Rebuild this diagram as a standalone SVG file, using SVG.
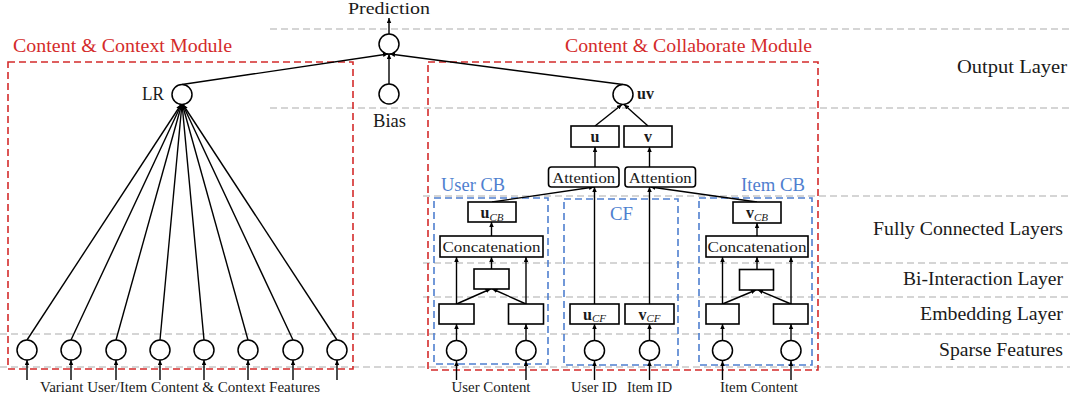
<svg xmlns="http://www.w3.org/2000/svg" width="1070" height="397" viewBox="0 0 1070 397">
<style>
  text{font-family:"Liberation Serif","Times New Roman",serif;fill:#1a1a1a}
  .big{font-size:18px}
  .mid{font-size:15px}
  .small{font-size:14px}
  .red-t{fill:#d42b2b}
  .blue-t{fill:#4f7fcf}
  .bf{font-weight:bold}
  .vec{font-size:16px}
  .sub{font-style:italic;font-size:11px}
  .node circle{fill:#fff;stroke:#000;stroke-width:1.5}
  .box{fill:#fff;stroke:#000;stroke-width:1.6}
  .conn line{stroke:#000;stroke-width:1.4;marker-end:url(#arr)}
  .red{fill:none;stroke:#d42b2b;stroke-width:1.6;stroke-dasharray:7 4}
  .blue{fill:none;stroke:#4f7fcf;stroke-width:1.6;stroke-dasharray:7 4}
</style>
<defs>
  <marker id="arr" viewBox="0 0 10 10" refX="10" refY="5" markerWidth="5" markerHeight="5" markerUnits="userSpaceOnUse" orient="auto">
    <path d="M0,0.5 L10,5 L0,9.5 z" fill="#000"/>
  </marker>
</defs>
<rect width="1070" height="397" fill="#fff"/>

<!-- layer separators -->
<g id="layer-guides" stroke="#c8c8c8" stroke-width="1.5" stroke-dasharray="7 4" fill="none">
  <line x1="270" y1="29" x2="1070" y2="29"/>
  <line x1="270" y1="108" x2="1070" y2="108"/>
  <line x1="423" y1="196" x2="1070" y2="196"/>
  <line x1="423" y1="263" x2="1070" y2="263"/>
  <line x1="423" y1="297" x2="1070" y2="297"/>
  <line x1="0" y1="334" x2="1070" y2="334"/>
  <line x1="0" y1="367" x2="1070" y2="367"/>
</g>

<!-- layer names -->
<g id="layer-names">
  <text class="big" x="1067" y="73" text-anchor="end" textLength="110" lengthAdjust="spacingAndGlyphs">Output Layer</text>
  <text class="big" x="1063" y="235" text-anchor="end" textLength="190" lengthAdjust="spacingAndGlyphs">Fully Connected Layers</text>
  <text class="big" x="1063" y="285" text-anchor="end" textLength="160" lengthAdjust="spacingAndGlyphs">Bi-Interaction Layer</text>
  <text class="big" x="1063" y="320" text-anchor="end" textLength="143" lengthAdjust="spacingAndGlyphs">Embedding Layer</text>
  <text class="big" x="1063" y="356" text-anchor="end" textLength="124" lengthAdjust="spacingAndGlyphs">Sparse Features</text>
</g>

<!-- module frames -->
<g id="content-context-module">
  <rect class="red" x="8" y="62" width="345" height="307"/>
  <text class="big red-t" x="13" y="52" textLength="219" lengthAdjust="spacingAndGlyphs">Content &amp; Context Module</text>
</g>
<g id="content-collaborate-module">
  <rect class="red" x="428" y="62" width="390" height="308"/>
  <text class="big red-t" x="565" y="52" textLength="247" lengthAdjust="spacingAndGlyphs">Content &amp; Collaborate Module</text>
</g>
<g id="user-cb">
  <rect class="blue" x="434" y="198" width="114" height="166"/>
  <text class="big blue-t" x="441" y="191" textLength="64" lengthAdjust="spacingAndGlyphs">User CB</text>
</g>
<g id="cf">
  <rect class="blue" x="564" y="199" width="114" height="166"/>
  <text class="big blue-t" x="610" y="220" textLength="23" lengthAdjust="spacingAndGlyphs">CF</text>
</g>
<g id="item-cb">
  <rect class="blue" x="699" y="198" width="113" height="167"/>
  <text class="big blue-t" x="741" y="191" textLength="64" lengthAdjust="spacingAndGlyphs">Item CB</text>
</g>

<!-- connectors -->
<g id="connectors" class="conn">
  <!-- into prediction -->
  <line x1="182" y1="84.5" x2="388" y2="54"/>
  <line x1="389" y1="84" x2="389" y2="54"/>
  <line x1="623" y1="84.5" x2="390" y2="54"/>
  <line x1="389" y1="34" x2="389" y2="18"/>
  <!-- sparse features into LR -->
  <line x1="27" y1="340" x2="181" y2="104.5"/>
  <line x1="71" y1="340" x2="181.3" y2="104.5"/>
  <line x1="116" y1="340" x2="181.6" y2="104.5"/>
  <line x1="160" y1="340" x2="181.9" y2="104.5"/>
  <line x1="204" y1="340" x2="182.1" y2="104.5"/>
  <line x1="248" y1="340" x2="182.4" y2="104.5"/>
  <line x1="293" y1="340" x2="182.7" y2="104.5"/>
  <line x1="337" y1="340" x2="183" y2="104.5"/>
  <!-- raw inputs on the left -->
  <line x1="27" y1="380" x2="27" y2="360"/>
  <line x1="71" y1="380" x2="71" y2="360"/>
  <line x1="116" y1="380" x2="116" y2="360"/>
  <line x1="160" y1="380" x2="160" y2="360"/>
  <line x1="204" y1="380" x2="204" y2="360"/>
  <line x1="248" y1="380" x2="248" y2="360"/>
  <line x1="293" y1="380" x2="293" y2="360"/>
  <line x1="337" y1="380" x2="337" y2="360"/>
  <!-- u, v into uv -->
  <line x1="595" y1="126" x2="622" y2="104.5"/>
  <line x1="648" y1="126" x2="624" y2="104.5"/>
  <!-- attention into u, v -->
  <line x1="595" y1="167" x2="595" y2="147"/>
  <line x1="649.5" y1="167" x2="649.5" y2="147"/>
  <!-- into attention -->
  <line x1="492" y1="202" x2="594" y2="187"/>
  <line x1="594.5" y1="304" x2="594.5" y2="187"/>
  <line x1="649.5" y1="304" x2="649.5" y2="187"/>
  <line x1="757" y1="202" x2="650.5" y2="187"/>
  <!-- user CB tower -->
  <line x1="491.5" y1="236" x2="491.5" y2="222"/>
  <line x1="491.5" y1="269" x2="491.5" y2="257"/>
  <line x1="456.5" y1="304" x2="456.5" y2="257"/>
  <line x1="526" y1="304" x2="526" y2="257"/>
  <line x1="456.5" y1="304" x2="490.5" y2="289"/>
  <line x1="526" y1="304" x2="492.5" y2="289"/>
  <line x1="456.5" y1="340" x2="456.5" y2="324"/>
  <line x1="526" y1="340" x2="526" y2="324"/>
  <line x1="456.5" y1="380" x2="456.5" y2="361"/>
  <line x1="526" y1="380" x2="526" y2="361"/>
  <!-- CF tower -->
  <line x1="594.5" y1="341" x2="594.5" y2="324"/>
  <line x1="649.5" y1="341" x2="649.5" y2="324"/>
  <line x1="594.5" y1="380" x2="594.5" y2="361"/>
  <line x1="649.5" y1="380" x2="649.5" y2="361"/>
  <!-- item CB tower -->
  <line x1="757" y1="236" x2="757" y2="223"/>
  <line x1="757" y1="269" x2="757" y2="257"/>
  <line x1="722.5" y1="304" x2="722.5" y2="257"/>
  <line x1="791" y1="304" x2="791" y2="257"/>
  <line x1="722.5" y1="304" x2="756" y2="290"/>
  <line x1="791" y1="304" x2="758" y2="290"/>
  <line x1="722.5" y1="340" x2="722.5" y2="324"/>
  <line x1="791" y1="340" x2="791" y2="324"/>
  <line x1="722.5" y1="380" x2="722.5" y2="361"/>
  <line x1="791" y1="380" x2="791" y2="361"/>
</g>

<!-- output nodes -->
<g id="prediction" class="node">
  <circle cx="389" cy="44" r="10"/>
  <text x="389" y="14" font-size="17" text-anchor="middle" textLength="82" lengthAdjust="spacingAndGlyphs">Prediction</text>
</g>
<g id="lr" class="node">
  <circle cx="182" cy="94.5" r="10"/>
  <text class="big" x="164" y="100" text-anchor="end" textLength="22" lengthAdjust="spacingAndGlyphs">LR</text>
</g>
<g id="bias" class="node">
  <circle cx="389" cy="94" r="10"/>
  <text class="big" x="389.5" y="127" text-anchor="middle" textLength="33" lengthAdjust="spacingAndGlyphs">Bias</text>
</g>
<g id="uv" class="node">
  <circle cx="623" cy="94.5" r="10"/>
  <text class="vec bf" x="637" y="99">uv</text>
</g>

<!-- upper vectors -->
<g id="u">
  <rect class="box" x="571" y="126" width="48" height="21"/>
  <text class="vec bf" x="595" y="142" text-anchor="middle">u</text>
</g>
<g id="v">
  <rect class="box" x="624" y="126" width="48" height="21"/>
  <text class="vec bf" x="648" y="142" text-anchor="middle">v</text>
</g>
<g id="attention-u">
  <rect class="box" x="548.5" y="167" width="70.5" height="20" rx="3"/>
  <text class="mid" x="583.7" y="182.5" text-anchor="middle" textLength="63" lengthAdjust="spacingAndGlyphs">Attention</text>
</g>
<g id="attention-v">
  <rect class="box" x="625" y="167" width="70.5" height="20" rx="3"/>
  <text class="mid" x="660.2" y="182.5" text-anchor="middle" textLength="63" lengthAdjust="spacingAndGlyphs">Attention</text>
</g>

<!-- user content tower -->
<g id="u-cb">
  <rect class="box" x="468" y="202" width="48" height="20"/>
  <text class="vec" x="492" y="218" text-anchor="middle"><tspan class="bf">u</tspan><tspan class="sub" dy="2.5">CB</tspan></text>
</g>
<g id="concat-user">
  <rect class="box" x="440" y="236" width="103" height="21"/>
  <text class="mid" x="491.5" y="251.5" text-anchor="middle" textLength="98" lengthAdjust="spacingAndGlyphs">Concatenation</text>
</g>
<g id="bi-user"><rect class="box" x="474" y="269" width="35" height="20"/></g>
<g id="emb-user-1"><rect class="box" x="439" y="304" width="35" height="20"/></g>
<g id="emb-user-2"><rect class="box" x="508.5" y="304" width="35" height="20"/></g>
<g id="sparse-user-1" class="node"><circle cx="456.5" cy="350.5" r="10"/></g>
<g id="sparse-user-2" class="node"><circle cx="526" cy="350.5" r="10"/></g>
<g id="label-user-content"><text class="small" x="491" y="391.5" text-anchor="middle" textLength="79" lengthAdjust="spacingAndGlyphs">User Content</text></g>

<!-- collaborative filtering ids -->
<g id="u-cf">
  <rect class="box" x="570" y="304" width="49" height="20"/>
  <text class="vec" x="594.5" y="319.5" text-anchor="middle"><tspan class="bf">u</tspan><tspan class="sub" dy="2.5">CF</tspan></text>
</g>
<g id="v-cf">
  <rect class="box" x="625" y="304" width="49" height="20"/>
  <text class="vec" x="649.5" y="319.5" text-anchor="middle"><tspan class="bf">v</tspan><tspan class="sub" dy="2.5">CF</tspan></text>
</g>
<g id="sparse-user-id" class="node"><circle cx="594.5" cy="350.5" r="10"/></g>
<g id="sparse-item-id" class="node"><circle cx="649.5" cy="350.5" r="10"/></g>
<g id="label-user-id"><text class="small" x="594" y="391.5" text-anchor="middle" textLength="46" lengthAdjust="spacingAndGlyphs">User ID</text></g>
<g id="label-item-id"><text class="small" x="649.5" y="391.5" text-anchor="middle" textLength="45" lengthAdjust="spacingAndGlyphs">Item ID</text></g>

<!-- item content tower -->
<g id="v-cb">
  <rect class="box" x="733" y="202" width="48" height="21"/>
  <text class="vec" x="757" y="218" text-anchor="middle"><tspan class="bf">v</tspan><tspan class="sub" dy="2.5">CB</tspan></text>
</g>
<g id="concat-item">
  <rect class="box" x="706" y="236" width="102" height="21"/>
  <text class="mid" x="757" y="251.5" text-anchor="middle" textLength="99" lengthAdjust="spacingAndGlyphs">Concatenation</text>
</g>
<g id="bi-item"><rect class="box" x="739.5" y="269.5" width="34" height="20.5"/></g>
<g id="emb-item-1"><rect class="box" x="706" y="304" width="33" height="20"/></g>
<g id="emb-item-2"><rect class="box" x="773.5" y="304" width="34.5" height="20"/></g>
<g id="sparse-item-1" class="node"><circle cx="722.5" cy="350.5" r="10"/></g>
<g id="sparse-item-2" class="node"><circle cx="791" cy="350.5" r="10"/></g>
<g id="label-item-content"><text class="small" x="759" y="391.5" text-anchor="middle" textLength="78" lengthAdjust="spacingAndGlyphs">Item Content</text></g>

<!-- context features -->
<g id="sparse-context" class="node">
  <circle cx="27" cy="350" r="10"/>
  <circle cx="71" cy="350" r="10"/>
  <circle cx="116" cy="350" r="10"/>
  <circle cx="160" cy="350" r="10"/>
  <circle cx="204" cy="350" r="10"/>
  <circle cx="248" cy="350" r="10"/>
  <circle cx="293" cy="350" r="10"/>
  <circle cx="337" cy="350" r="10"/>
</g>
<g id="label-context"><text class="small" x="40" y="391.5" textLength="280" lengthAdjust="spacingAndGlyphs">Variant User/Item Content &amp; Context Features</text></g>
</svg>
